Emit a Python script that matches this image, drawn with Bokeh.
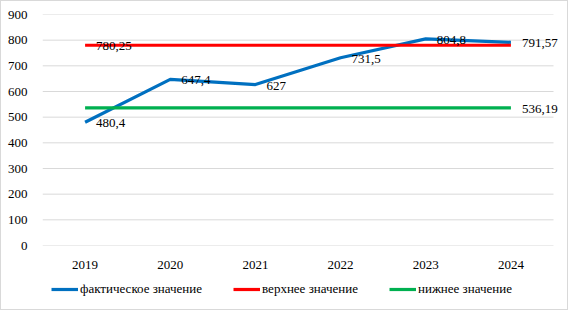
from bokeh.plotting import figure
from bokeh.layouts import column
from bokeh.models import Range1d, Legend, LegendItem, Label, FixedTicker
from bokeh.embed import file_html
from bokeh.resources import INLINE

years = ["2019", "2020", "2021", "2022", "2023", "2024"]
actual = [480.4, 647.4, 627, 731.5, 804.8, 791.57]
upper = [780.25, 780.25, 780.25, 780.25, 780.25, 780.25]
lower = [536.19, 536.19, 536.19, 536.19, 536.19, 536.19]
actual_labels = ["480,4", "647,4", "627", "731,5", "804,8", "791,57"]
upper_label = "780,25"
lower_label = "536,19"
series_names = ["фактическое значение", "верхнее значение", "нижнее значение"]
y_ticks = [0, 100, 200, 300, 400, 500, 600, 700, 800, 900]

FONT = "Liberation Serif"
FS = "13px"
COLORS = ["#0070C0", "#FF0000", "#00B050"]

# category positions: centre of each equal band (like a categorical axis)
xs = [i + 0.5 for i in range(len(years))]
n = len(years)

p = figure(width=566, height=271, x_range=Range1d(0, n * 525 / 511),
           y_range=Range1d(0, 900), output_backend="svg", toolbar_location=None,
           min_border_left=41, min_border_right=0, min_border_top=13, min_border_bottom=27)
p.outline_line_color = None
p.background_fill_color = "white"
p.border_fill_color = "white"
p.grid.visible = False

# horizontal gridlines spanning the category bands only
p.segment(x0=[0] * len(y_ticks), x1=[n] * len(y_ticks), y0=y_ticks, y1=y_ticks,
          line_color="#D9D9D9", line_width=1)

p.yaxis.ticker = FixedTicker(ticks=y_ticks)
p.xaxis.ticker = FixedTicker(ticks=xs)
p.xaxis.major_label_overrides = {x: y for x, y in zip(xs, years)}
for ax in (p.xaxis[0], p.yaxis[0]):
    ax.axis_line_color = None
    ax.major_tick_line_color = None
    ax.minor_tick_line_color = None
    ax.major_label_text_font = FONT
    ax.major_label_text_font_size = FS
    ax.major_label_text_color = "#000000"
p.yaxis.major_label_standoff = 9
p.xaxis.major_label_standoff = 9

p.line(xs, actual, line_color=COLORS[0], line_width=3.2, line_join="round")
p.line(xs, upper, line_color=COLORS[1], line_width=3.2)
p.line(xs, lower, line_color=COLORS[2], line_width=3.2)

def add_label(x, y, t):
    p.add_layout(Label(x=x, y=y, text=t, x_offset=11, y_offset=-1,
                       text_baseline="middle", text_font=FONT, text_font_size=FS,
                       text_color="black"))

for x, y, t in zip(xs, actual, actual_labels):
    add_label(x, y, t)
add_label(xs[0], upper[0], upper_label)
add_label(xs[-1], lower[-1], lower_label)

# legend strip
lg = figure(width=566, height=37, x_range=Range1d(0, 1), y_range=Range1d(0, 1),
            output_backend="svg", toolbar_location=None, min_border=0,
            x_axis_location=None, y_axis_location=None)
lg.grid.visible = False
lg.outline_line_color = None
rs = [lg.line(x=[5, 6], y=[5, 6], line_color=c, line_width=3.2) for c in COLORS]
legend = Legend(items=[LegendItem(label=nm, renderers=[r]) for nm, r in zip(series_names, rs)],
                location=(9, 10), orientation="horizontal", glyph_width=27, glyph_height=20,
                label_standoff=2, spacing=31, padding=0, margin=0, border_line_color=None,
                background_fill_alpha=0, label_text_font=FONT, label_text_font_size=FS,
                label_text_color="black")
lg.add_layout(legend, "center")

layout = column(p, lg, spacing=0, styles={"border": "1px solid #D9D9D9"})
open("out.html", "w").write(file_html(layout, INLINE))
